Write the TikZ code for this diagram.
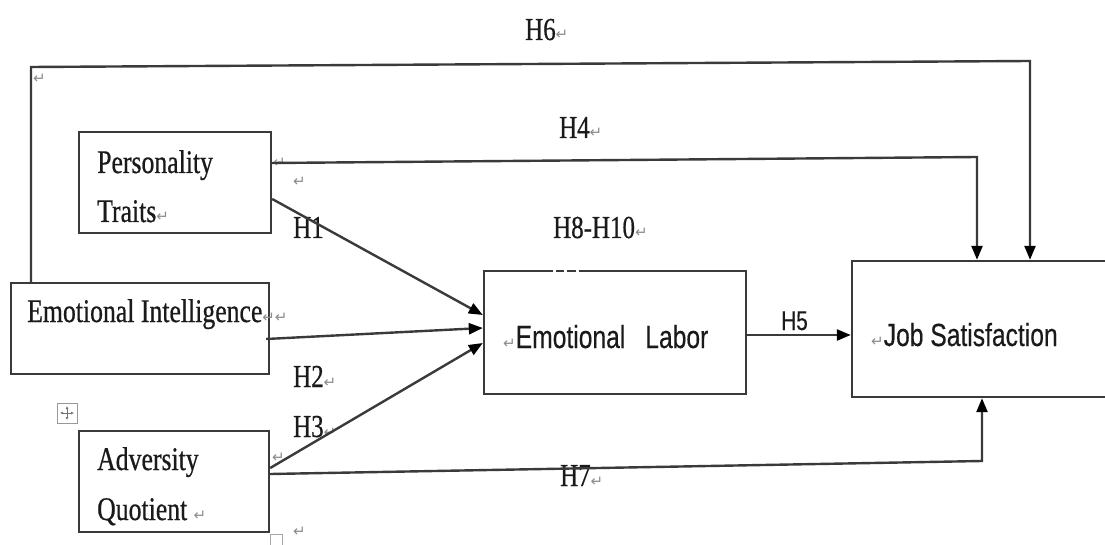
\documentclass[tikz,border=0pt]{standalone}
\usepackage{fontspec}
\usetikzlibrary{arrows.meta,calc}
\newfontfamily\serc{Liberation Serif}[FakeStretch=0.78,FakeBold=0.6]
\newfontfamily\sansc{Liberation Sans}[FakeStretch=0.77,FakeBold=0.3]
\newfontfamily\symf{DejaVu Sans}
\definecolor{ln}{HTML}{3A3A3A}
\definecolor{tx}{HTML}{1A1A1A}
\newcommand{\retmark}{{\symf\fontsize{15}{15}\selectfont\color{black!45}↵}}
\tikzset{
  boxn/.style={draw=ln, line width=2.4pt, rectangle, inner sep=0pt},
  txt/.style={anchor=base west, inner sep=0pt, text=tx},
  hlab/.style={txt, font=\serc\fontsize{32}{36}\selectfont},
  btxt/.style={txt, font=\serc\fontsize{33}{36}\selectfont},
  stxt/.style={txt, font=\sansc\fontsize{32}{36}\selectfont},
  rmark/.style={anchor=base west, inner sep=0pt},
  conn/.style={draw=ln, line width=2.4pt},
  arr/.style={conn, -{Triangle[length=14pt,width=11pt,fill=black,color=black]}},
}
\begin{document}
\begin{tikzpicture}[x=1pt,y=-1pt]
\useasboundingbox (0,0) rectangle (1105,545);
\fill[white] (0,0) rectangle (1105,545);

% boxes
\node[boxn, minimum width=192pt, minimum height=101pt] (pt) at (175,182.5) {};
\node[boxn, minimum width=258pt, minimum height=91pt] (ei) at (140,328.5) {};
\node[boxn, minimum width=190pt, minimum height=101pt] (aq) at (174,481.5) {};
\node[boxn, minimum width=262pt, minimum height=123pt] (el) at (615,332.5) {};
\node[boxn, minimum width=263pt, minimum height=136pt] (js) at (983.5,329) {};

% small gaps in top edge of Emotional Labor box
\fill[white] (553,269) rectangle (556,273.5);
\fill[white] (564,269) rectangle (567,273.5);
\fill[white] (576,269) rectangle (579,273.5);

% box texts
\node[btxt] (ptt1) at (97,173) {Personality};
\node[btxt] (ptt2) at (97,222) {Traits\retmark};
\node[btxt] (eit) at (27,322) {Emotional Intelligence\retmark\retmark};
\node[btxt] (aqt1) at (97,470) {Adversity};
\node[btxt] (aqt2) at (97,520) {Quotient \retmark};
\node[stxt] (elt) at (503,348) {\retmark Emotional\hspace{20pt}Labor};
\node[stxt] (jst) at (871,346) {\retmark Job Satisfaction};

% hypothesis labels
\node[hlab] (h6) at (525,40) {H6\retmark};
\node[hlab] (h4) at (559,138) {H4\retmark};
\node[hlab] (h810) at (553,238) {H8-H10\retmark};
\node[hlab] (h1) at (293,238) {H1};
\node[hlab] (h2) at (293,387) {H2\retmark};
\node[hlab] (h3) at (293,437) {H3\retmark};
\node[hlab] (h7) at (560,486) {H7\retmark};
\node[txt, font=\sansc\fontsize{27}{30}\selectfont] (h5) at (781,330) {H5};

% stray return marks
\node[rmark] (r1) at (33,84) {\retmark};
\node[rmark] (r2) at (273,168) {\retmark};
\node[rmark] (r3) at (293,187) {\retmark};
\node[rmark] (r4) at (272,462) {\retmark};
\node[rmark] (r5) at (293,536) {\retmark};

% table handle icon and small square
\node[draw=black!40, line width=0.8pt, minimum size=20pt, inner sep=0pt] (mv) at (67,413) {};
\draw[black!55, line width=0.9pt, {Latex[length=3pt,width=3pt]}-{Latex[length=3pt,width=3pt]}] ($(mv.center)+(-7,0)$) -- ($(mv.center)+(7,0)$);
\draw[black!55, line width=0.9pt, {Latex[length=3pt,width=3pt]}-{Latex[length=3pt,width=3pt]}] ($(mv.center)+(0,-7)$) -- ($(mv.center)+(0,7)$);
\node[draw=black!35, line width=0.8pt, minimum size=12pt, inner sep=0pt] (sq) at (276,540) {};

% connectors
\draw[arr] (ei.north -| 31,0) -- (31,67) -- (1030,61) -- (js.north -| 1030,0);
\draw[arr] (pt.east |- 0,163) -- (977,157) -- (js.north -| 977,0);
\draw[arr] (aq.east |- 0,474) -- (982,461) -- (js.south -| 982,0);
\draw[arr] (el.east |- 0,335) -- (js.west |- 0,335);
\draw[arr] (pt.east |- 0,199) -- (el.west |- 0,315);
\draw[arr] ([xshift=-4pt]ei.east |- 0,339) -- (el.west |- 0,328);
\draw[arr] (aq.east |- 0,468) -- (el.west |- 0,343);
\end{tikzpicture}
\end{document}
